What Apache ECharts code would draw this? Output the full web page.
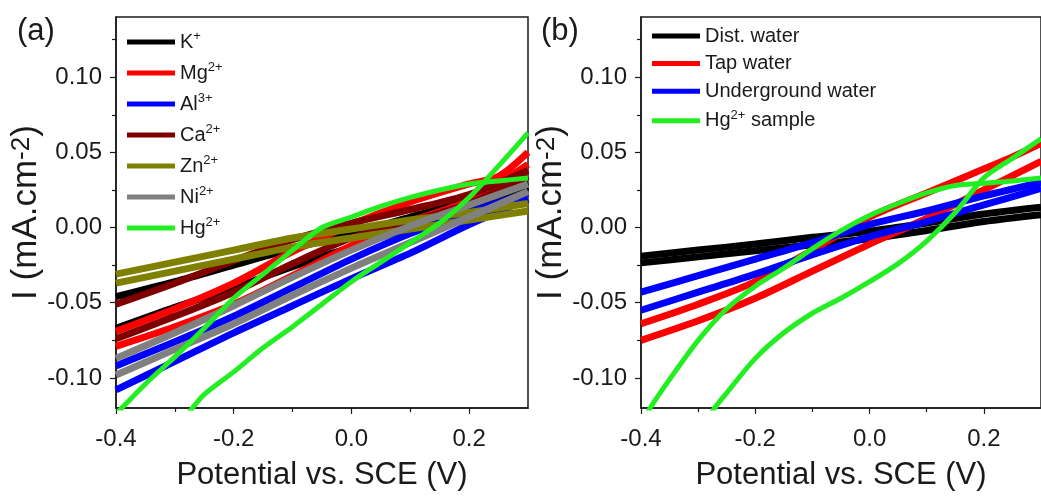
<!DOCTYPE html>
<html><head><meta charset="utf-8">
<script src="https://cdn.jsdelivr.net/npm/echarts@6/dist/echarts.min.js"></script>
<style>html,body{margin:0;padding:0;background:#fff}#c{width:1041px;height:496px}</style>
</head><body><div id="c"></div>
<script>
// ---------- data (potential V, current mA/cm2) ----------
const xTicks = [-0.4, -0.2, 0.0, 0.2];
const xMinorTicks = [-0.3, -0.1, 0.1];
const yTicks = [-0.10, -0.05, 0.00, 0.05, 0.10];
const yMinorTicks = [-0.075, -0.025, 0.025, 0.075, 0.125];

// Panel (a): interfering ions
const namesA = ['K+', 'Mg2+', 'Al3+', 'Ca2+', 'Zn2+', 'Ni2+', 'Hg2+'];
const colorsA = ['#000000', '#ff0000', '#0000ff', '#800000', '#808000', '#808080', '#22ee22'];
const kUp  = [[-0.4,-0.046],[-0.3,-0.036],[-0.2,-0.025],[-0.1,-0.014],[0,-0.004],[0.1,0.007],[0.2,0.018],[0.3,0.030]];
const kDn  = [[-0.4,-0.067],[-0.3,-0.053],[-0.2,-0.040],[-0.1,-0.026],[0,-0.013],[0.1,0.000],[0.2,0.013],[0.3,0.027]];
const mgUp = [[-0.4,-0.069],[-0.3,-0.054],[-0.2,-0.037],[-0.1,-0.016],[0,0.002],[0.1,0.017],[0.2,0.029],[0.25,0.034],[0.3,0.050]];
const mgDn = [[-0.4,-0.079],[-0.3,-0.066],[-0.2,-0.051],[-0.1,-0.032],[0,-0.012],[0.1,0.004],[0.2,0.018],[0.3,0.042]];
const alUp = [[-0.4,-0.092],[-0.3,-0.076],[-0.2,-0.059],[-0.1,-0.040],[0,-0.021],[0.1,-0.004],[0.2,0.010],[0.3,0.023]];
const alDn = [[-0.4,-0.108],[-0.3,-0.089],[-0.2,-0.070],[-0.1,-0.052],[0,-0.034],[0.1,-0.017],[0.2,0.002],[0.3,0.019]];
const caUp = [[-0.4,-0.051],[-0.3,-0.037],[-0.2,-0.022],[-0.1,-0.008],[0,0.003],[0.1,0.012],[0.2,0.022],[0.3,0.038]];
const caDn = [[-0.4,-0.074],[-0.3,-0.059],[-0.2,-0.043],[-0.1,-0.024],[0,-0.007],[0.1,0.004],[0.2,0.016],[0.3,0.034]];
const znUp = [[-0.4,-0.031],[-0.3,-0.023],[-0.2,-0.015],[-0.1,-0.007],[0,-0.001],[0.1,0.005],[0.2,0.010],[0.3,0.016]];
const znDn = [[-0.4,-0.037],[-0.3,-0.029],[-0.2,-0.021],[-0.1,-0.013],[0,-0.007],[0.1,-0.001],[0.2,0.005],[0.3,0.011]];
const niUp = [[-0.4,-0.087],[-0.3,-0.070],[-0.2,-0.052],[-0.1,-0.033],[0,-0.015],[0.1,0.001],[0.2,0.015],[0.3,0.029]];
const niDn = [[-0.4,-0.098],[-0.3,-0.081],[-0.2,-0.064],[-0.1,-0.045],[0,-0.027],[0.1,-0.010],[0.2,0.007],[0.3,0.024]];
const hgUp = [[-0.41,-0.128],[-0.4,-0.124],[-0.35,-0.104],[-0.3,-0.086],[-0.25,-0.067],[-0.2,-0.047],[-0.15,-0.031],[-0.1,-0.015],[-0.05,0.000],[0,0.007],[0.05,0.014],[0.1,0.020],[0.15,0.025],[0.2,0.029],[0.25,0.031],[0.3,0.033]];
const hgDn = [[-0.3,-0.135],[-0.27,-0.120],[-0.25,-0.111],[-0.2,-0.096],[-0.15,-0.080],[-0.1,-0.066],[-0.05,-0.051],[0,-0.036],[0.05,-0.023],[0.1,-0.010],[0.15,0.003],[0.2,0.020],[0.25,0.041],[0.3,0.063]];
const upA = [kUp, mgUp, alUp, caUp, znUp, niUp, hgUp];
const dnA = [kDn, mgDn, alDn, caDn, znDn, niDn, hgDn];

// Panel (b): real samples
const namesB = ['Dist. water', 'Tap water', 'Underground water', 'Hg2+ sample'];
const colorsB = ['#000000', '#ff0000', '#0000ff', '#22ee22'];
const distUp = [[-0.4,-0.019],[-0.3,-0.015],[-0.2,-0.011],[-0.1,-0.0065],[0,-0.0025],[0.1,0.003],[0.2,0.009],[0.3,0.0135]];
const distDn = [[-0.4,-0.0235],[-0.3,-0.0195],[-0.2,-0.0155],[-0.1,-0.0115],[0,-0.0075],[0.1,-0.002],[0.2,0.004],[0.3,0.0085]];
const tapUp  = [[-0.4,-0.064],[-0.3,-0.051],[-0.2,-0.036],[-0.1,-0.015],[0,0.007],[0.1,0.023],[0.2,0.039],[0.25,0.047],[0.3,0.056]];
const tapDn  = [[-0.4,-0.075],[-0.3,-0.062],[-0.2,-0.047],[-0.1,-0.029],[0,-0.011],[0.1,0.006],[0.2,0.025],[0.3,0.044]];
const ugUp   = [[-0.4,-0.043],[-0.3,-0.032],[-0.2,-0.021],[-0.1,-0.010],[0,0.002],[0.1,0.011],[0.2,0.021],[0.3,0.030]];
const ugDn   = [[-0.4,-0.055],[-0.3,-0.043],[-0.2,-0.031],[-0.1,-0.018],[0,-0.006],[0.1,0.004],[0.2,0.015],[0.3,0.026]];
const hgsUp  = [[-0.395,-0.128],[-0.384,-0.120],[-0.35,-0.101],[-0.3,-0.075],[-0.25,-0.054],[-0.2,-0.039],[-0.15,-0.027],[-0.1,-0.014],[-0.05,-0.002],[0,0.008],[0.05,0.016],[0.1,0.023],[0.15,0.028],[0.2,0.0295],[0.25,0.031],[0.3,0.033]];
const hgsDn  = [[-0.3,-0.137],[-0.271,-0.120],[-0.25,-0.110],[-0.2,-0.087],[-0.15,-0.070],[-0.1,-0.057],[-0.05,-0.047],[0,-0.036],[0.05,-0.024],[0.1,-0.009],[0.15,0.010],[0.2,0.033],[0.25,0.046],[0.3,0.059]];
const upB = [distUp, tapUp, ugUp, hgsUp];
const dnB = [distDn, tapDn, ugDn, hgsDn];

// ---------- styling ----------
const SANS = '"Liberation Sans", Arial, sans-serif';
const INK = '#1a1a1a';

function richName(n) {
  return n.replace(/^([A-Za-z]+)(\d*\+)(.*)$/, (m, a, b, c) => '{b|' + a + '}{s|' + b + '}' + (c ? '{b|' + c + '}' : ''));
}
function legendCfg(names, left, top, gap) {
  return {
    orient: 'vertical', left: left, top: top, itemWidth: 48, itemHeight: 5, itemGap: gap,
    icon: 'rect', data: names, selectedMode: false,
    formatter: n => /\d*\+/.test(n) ? richName(n) : '{b|' + n + '}',
    textStyle: {
      rich: {
        b: { fontFamily: SANS, fontSize: 20, color: INK, lineHeight: 24 },
        s: { fontFamily: SANS, fontSize: 13, color: INK, lineHeight: 12, verticalAlign: 'top' }
      }
    }
  };
}
function mainX(grid) {
  return {
    type: 'value', gridIndex: grid, min: -0.4, max: 0.3, position: 'bottom',
    name: 'Potential vs. SCE (V)', nameLocation: 'middle', nameGap: 52,
    nameTextStyle: { fontFamily: SANS, fontSize: 31, color: INK },
    axisLine: { show: true, onZero: false, lineStyle: { color: INK, width: 1.5 } },
    axisTick: { show: true, inside: false, length: 6, customValues: xTicks, lineStyle: { color: INK, width: 1.2 } },
    axisLabel: { customValues: xTicks, formatter: v => v.toFixed(1), fontFamily: SANS, fontSize: 24, color: INK, margin: 19 },
    splitLine: { show: false }
  };
}
function minorX(grid) {
  return {
    type: 'value', gridIndex: grid, min: -0.4, max: 0.3, position: 'bottom',
    axisLine: { show: false, onZero: false },
    axisTick: { show: true, inside: false, length: 4, customValues: xMinorTicks, lineStyle: { color: INK, width: 1.2 } },
    axisLabel: { show: false }, splitLine: { show: false }
  };
}
function mainY(grid) {
  return {
    type: 'value', gridIndex: grid, min: -0.12, max: 0.14, position: 'left',
    name: 'I (mA.cm{s|-2})', nameLocation: 'middle', nameGap: 63, nameRotate: 90,
    nameTextStyle: { fontFamily: SANS, fontSize: 35, color: INK,
      rich: { s: { fontFamily: SANS, fontSize: 26, color: INK, verticalAlign: 'top', lineHeight: 22 } } },
    axisLine: { show: true, onZero: false, lineStyle: { color: INK, width: 1.5 } },
    axisTick: { show: true, inside: false, length: 6, customValues: yTicks, lineStyle: { color: INK, width: 1.2 } },
    axisLabel: { customValues: yTicks, formatter: v => v.toFixed(2), fontFamily: SANS, fontSize: 24, color: INK, margin: 14 },
    splitLine: { show: false }
  };
}
function minorY(grid) {
  return {
    type: 'value', gridIndex: grid, min: -0.12, max: 0.14, position: 'left',
    axisLine: { show: false, onZero: false },
    axisTick: { show: true, inside: false, length: 4, customValues: yMinorTicks, lineStyle: { color: INK, width: 1.2 } },
    axisLabel: { show: false }, splitLine: { show: false }
  };
}

const series = [];
function addSeries(names, colors, ups, dns, axisIdx) {
  names.forEach((n, i) => {
    const isHg = /^Hg/.test(n);
    [ups[i], dns[i]].forEach(d => {
      series.push({
        type: 'line', name: n, xAxisIndex: axisIdx, yAxisIndex: axisIdx, data: d,
        symbol: 'none', smooth: 0.3, clip: true, silent: true,
        color: colors[i],
        lineStyle: { color: colors[i], width: isHg ? 5 : 7 },
        z: isHg ? 5 : 2
      });
    });
  });
}
addSeries(namesA, colorsA, upA, dnA, 0);
addSeries(namesB, colorsB, upB, dnB, 2);

const option = {
  backgroundColor: '#ffffff',
  animation: false,
  grid: [
    { left: 116, top: 17, width: 412, height: 396, show: true, borderColor: INK, borderWidth: 1.5, backgroundColor: 'transparent' },
    { left: 641, top: 17, width: 412, height: 396, show: true, borderColor: INK, borderWidth: 1.5, backgroundColor: 'transparent' }
  ],
  xAxis: [mainX(0), minorX(0), mainX(1), minorX(1)],
  yAxis: [mainY(0), minorY(0), mainY(1), minorY(1)],
  legend: [legendCfg(namesA, 122, 25, 9), legendCfg(namesB, 647, 21, 7.6)],
  graphic: [
    { type: 'text', left: 17, top: 16, style: { text: '(a)', fontFamily: SANS, fontSize: 31, fill: INK } },
    { type: 'text', left: 541, top: 16, style: { text: '(b)', fontFamily: SANS, fontSize: 31, fill: INK } }
  ],
  series: series
};
const chart = echarts.init(document.getElementById('c'), null, { renderer: 'canvas' });
chart.setOption(option);
</script></body></html>
